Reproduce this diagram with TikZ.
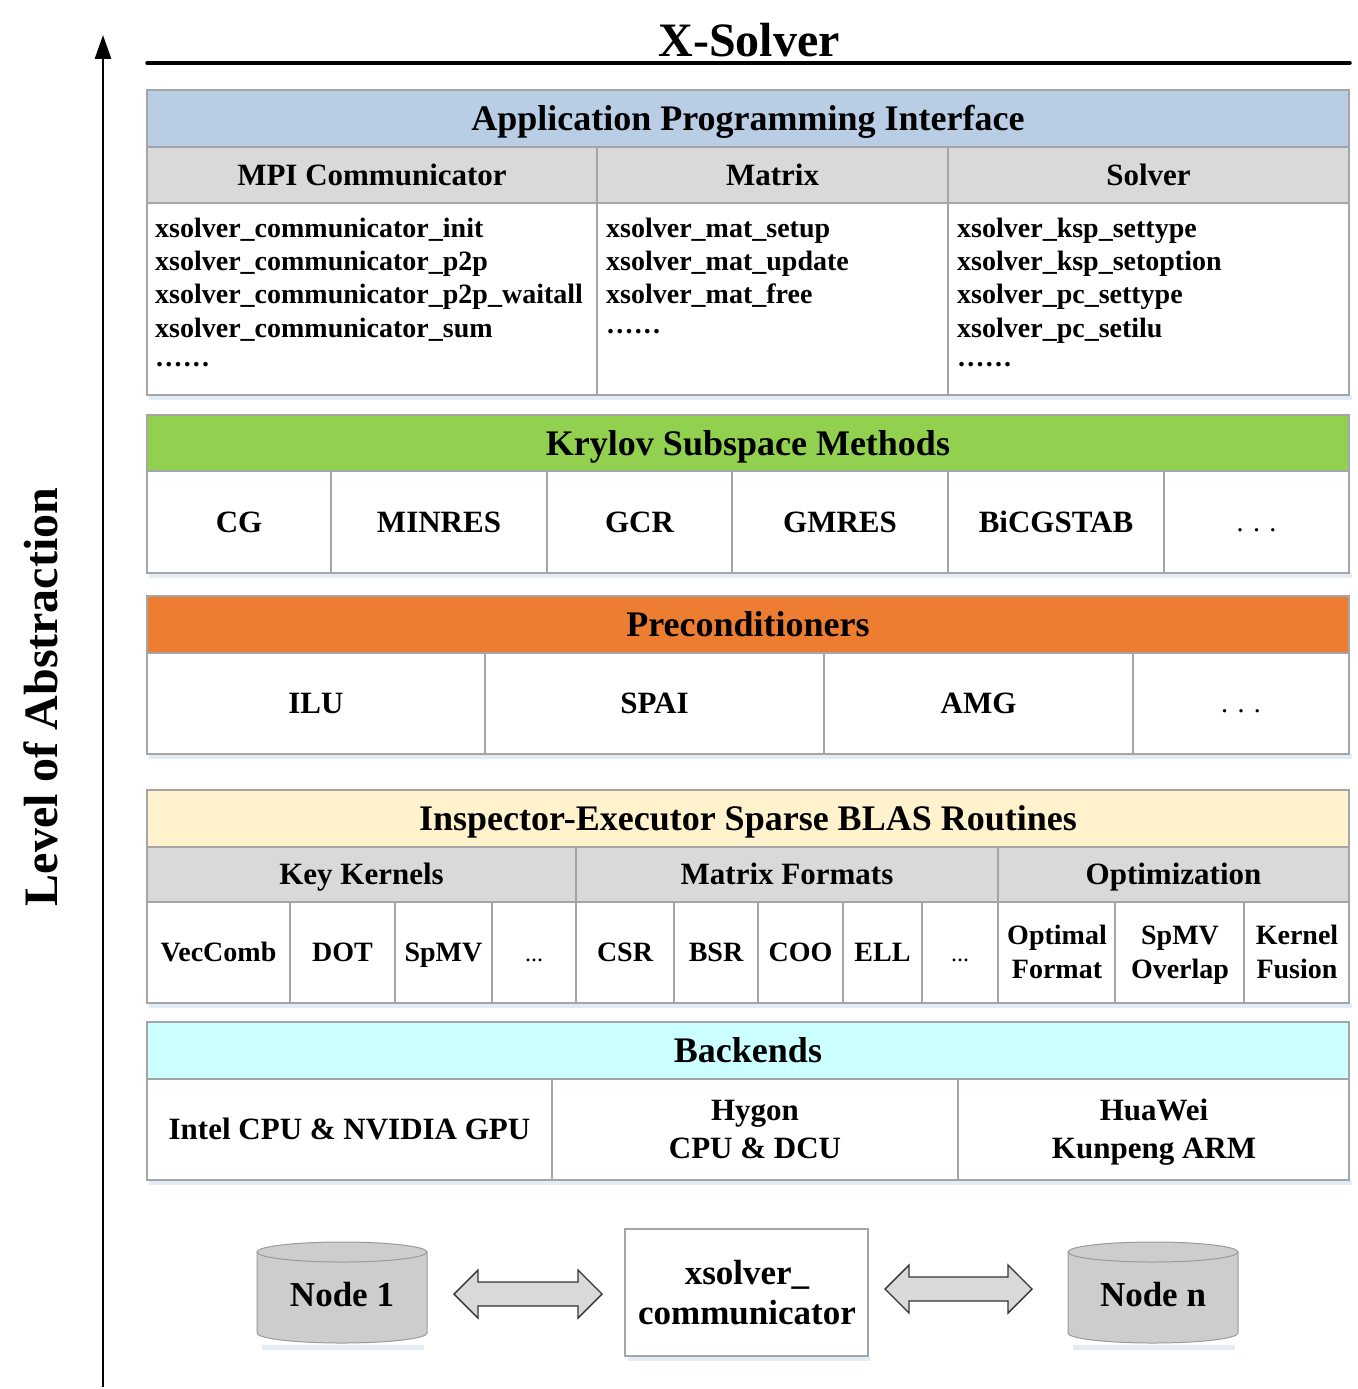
\documentclass[tikz,border=0pt]{standalone}
\usepackage{fontspec}
\setmainfont{Liberation Serif}
\usetikzlibrary{arrows.meta}
\definecolor{bord}{HTML}{A5A5A5}
\definecolor{apiblue}{HTML}{B9CDE5}
\definecolor{subgray}{HTML}{D9D9D9}
\definecolor{kgreen}{HTML}{92D050}
\definecolor{porange}{HTML}{ED7D31}
\definecolor{iyellow}{HTML}{FFF2CC}
\definecolor{bcyan}{HTML}{CCFFFF}
\definecolor{cylgray}{HTML}{CDCDCD}
\definecolor{cylline}{HTML}{9A9A9A}
\definecolor{arrfill}{HTML}{D9D9D9}
\definecolor{shadowc}{HTML}{DCE6F2}
\newcommand\sixdots{.\kern2.2pt.\kern2.2pt.\kern2.2pt.\kern2.2pt.\kern2.2pt.}
\begin{document}
\begin{tikzpicture}[x=1pt,y=-1pt,
  cell/.style={draw=bord, line width=1.2pt, inner sep=0pt, outer sep=0pt, anchor=north west, align=center},
  hd/.style={font=\fontsize{36}{40}\selectfont\bfseries, text height=32.1pt, text depth=7.8pt},
  sb/.style={font=\fontsize{31}{36}\selectfont\bfseries, text height=27.6pt, text depth=6.7pt},
  sm/.style={font=\fontsize{28}{33}\selectfont\bfseries, text height=24.9pt, text depth=6pt},
  dotsty/.style={font=\fontsize{28}{33}\selectfont, text height=24.9pt, text depth=6pt},
  code/.style={font=\fontsize{28}{33}\selectfont\bfseries, anchor=base west, inner sep=0pt},
  lbl/.style={font=\fontsize{28}{33}\selectfont\bfseries, anchor=base, inner sep=0pt},
  lblb/.style={font=\fontsize{31}{36}\selectfont\bfseries, anchor=base, inner sep=0pt},
  lblc/.style={font=\fontsize{35}{40}\selectfont\bfseries, anchor=base, inner sep=0pt},
  shad/.style={fill=shadowc, opacity=0.8},
  fatarrow/.style={draw=black!80, fill=arrfill, line width=1.4pt, line join=miter},
  cyl/.style={draw=cylline, fill=cylgray, line width=1pt}
]
\useasboundingbox (0,0) rectangle (1357,1389);

% title and axis
\node[font=\fontsize{48}{52}\selectfont\bfseries, anchor=base, inner sep=0pt] (title) at (749,57) {X-Solver};
\coordinate (tl) at (147,63);
\coordinate (tr) at (1350,63);
\draw[line width=3.5pt, line cap=round] (tl) -- (tr);
\coordinate (ab) at (103,1387);
\coordinate (at) at (103,35);
\draw[line width=2.8pt, -{Triangle[length=24pt,width=16pt]}] (ab) -- (at);
\node[rotate=90, anchor=base, inner sep=0pt, font=\fontsize{48}{52}\selectfont\bfseries] (lvl) at (57,697) {Level of Abstraction};

% shadows
\fill[shad] (149,395) rectangle (1352,400);
\fill[shad] (149,573) rectangle (1352,578);
\fill[shad] (149,754) rectangle (1352,759);
\fill[shad] (149,1003) rectangle (1352,1008);
\fill[shad] (149,1180) rectangle (1352,1185);

% API
\node[cell, hd, fill=apiblue, minimum width=1202pt, minimum height=57pt] (api) at (147,90) {Application Programming Interface};
\node[cell, sb, fill=subgray, minimum width=450pt, minimum height=56pt] (apiS1) at (147,147) {MPI Communicator};
\node[cell, sb, fill=subgray, minimum width=351pt, minimum height=56pt] (apiS2) at (597,147) {Matrix};
\node[cell, sb, fill=subgray, minimum width=401pt, minimum height=56pt] (apiS3) at (948,147) {Solver};
\node[cell, fill=white, minimum width=450pt, minimum height=192pt] (apiC1) at (147,203) {};
\node[cell, fill=white, minimum width=351pt, minimum height=192pt] (apiC2) at (597,203) {};
\node[cell, fill=white, minimum width=401pt, minimum height=192pt] (apiC3) at (948,203) {};
\foreach \t [count=\i] in {xsolver\_communicator\_init, xsolver\_communicator\_p2p, xsolver\_communicator\_p2p\_waitall, xsolver\_communicator\_sum}
  \node[code] (mc\i) at (155,{237+33.4*(\i-1)}) {\t};
\node[code] (mcd) at (156,366) {\sixdots};
\foreach \t [count=\i] in {xsolver\_mat\_setup, xsolver\_mat\_update, xsolver\_mat\_free}
  \node[code] (mm\i) at (606,{237+33.4*(\i-1)}) {\t};
\node[code] (mmd) at (607,333) {\sixdots};
\foreach \t [count=\i] in {xsolver\_ksp\_settype, xsolver\_ksp\_setoption, xsolver\_pc\_settype, xsolver\_pc\_setilu}
  \node[code] (ms\i) at (957,{237+33.4*(\i-1)}) {\t};
\node[code] (msd) at (958,366) {\sixdots};

% Krylov
\node[cell, hd, fill=kgreen, minimum width=1202pt, minimum height=56pt] (kry) at (147,415) {Krylov Subspace Methods};
\node[cell, sb, fill=white, minimum width=184pt, minimum height=102pt] (k1) at (147,471) {CG};
\node[cell, sb, fill=white, minimum width=216pt, minimum height=102pt] (k2) at (331,471) {MINRES};
\node[cell, sb, fill=white, minimum width=185pt, minimum height=102pt] (k3) at (547,471) {GCR};
\node[cell, sb, fill=white, minimum width=216pt, minimum height=102pt] (k4) at (732,471) {GMRES};
\node[cell, sb, fill=white, minimum width=216pt, minimum height=102pt] (k5) at (948,471) {BiCGSTAB};
\node[cell, dotsty, fill=white, minimum width=185pt, minimum height=102pt] (k6) at (1164,471) {. . .};

% Preconditioners
\node[cell, hd, fill=porange, minimum width=1202pt, minimum height=57pt] (pre) at (147,596) {Preconditioners};
\node[cell, sb, fill=white, minimum width=338pt, minimum height=101pt] (p1) at (147,653) {ILU};
\node[cell, sb, fill=white, minimum width=339pt, minimum height=101pt] (p2) at (485,653) {SPAI};
\node[cell, sb, fill=white, minimum width=309pt, minimum height=101pt] (p3) at (824,653) {AMG};
\node[cell, dotsty, fill=white, minimum width=216pt, minimum height=101pt] (p4) at (1133,653) {. . .};

% Inspector-Executor
\node[cell, hd, fill=iyellow, minimum width=1202pt, minimum height=57pt] (ins) at (147,790) {Inspector-Executor Sparse BLAS Routines};
\node[cell, sb, fill=subgray, minimum width=429pt, minimum height=55pt] (is1) at (147,847) {Key Kernels};
\node[cell, sb, fill=subgray, minimum width=422pt, minimum height=55pt] (is2) at (576,847) {Matrix Formats};
\node[cell, sb, fill=subgray, minimum width=351pt, minimum height=55pt] (is3) at (998,847) {Optimization};
\node[cell, sm, fill=white, minimum width=143pt, minimum height=101pt] (r1) at (147,902) {VecComb};
\node[cell, sm, fill=white, minimum width=105pt, minimum height=101pt] (r2) at (290,902) {DOT};
\node[cell, sm, fill=white, minimum width=97pt, minimum height=101pt] (r3) at (395,902) {SpMV};
\node[cell, dotsty, font=\fontsize{24}{28}\selectfont, fill=white, minimum width=84pt, minimum height=101pt] (r4) at (492,902) {...};
\node[cell, sm, fill=white, minimum width=98pt, minimum height=101pt] (r5) at (576,902) {CSR};
\node[cell, sm, fill=white, minimum width=84pt, minimum height=101pt] (r6) at (674,902) {BSR};
\node[cell, sm, fill=white, minimum width=85pt, minimum height=101pt] (r7) at (758,902) {COO};
\node[cell, sm, fill=white, minimum width=79pt, minimum height=101pt] (r8) at (843,902) {ELL};
\node[cell, dotsty, font=\fontsize{24}{28}\selectfont, fill=white, minimum width=76pt, minimum height=101pt] (r9) at (922,902) {...};
\node[cell, fill=white, minimum width=117pt, minimum height=101pt] (r10) at (998,902) {};
\node[cell, fill=white, minimum width=129pt, minimum height=101pt] (r11) at (1115,902) {};
\node[cell, fill=white, minimum width=105pt, minimum height=101pt] (r12) at (1244,902) {};
\node[lbl] (r10a) at (1057,944) {Optimal};
\node[lbl] (r10b) at (1057,978) {Format};
\node[lbl] (r11a) at (1180,944) {SpMV};
\node[lbl] (r11b) at (1180,978) {Overlap};
\node[lbl] (r12a) at (1297,944) {Kernel};
\node[lbl] (r12b) at (1297,978) {Fusion};

% Backends
\node[cell, hd, fill=bcyan, minimum width=1202pt, minimum height=57pt] (bk) at (147,1022) {Backends};
\node[cell, sb, fill=white, minimum width=405pt, minimum height=101pt] (b1) at (147,1079) {Intel CPU \& NVIDIA GPU};
\node[cell, fill=white, minimum width=406pt, minimum height=101pt] (b2) at (552,1079) {};
\node[cell, fill=white, minimum width=391pt, minimum height=101pt] (b3) at (958,1079) {};
\node[lblb] (b2a) at (755,1120) {Hygon};
\node[lblb] (b2b) at (755,1158) {CPU \& DCU};
\node[lblb] (b3a) at (1154,1120) {HuaWei};
\node[lblb] (b3b) at (1154,1158) {Kunpeng ARM};

% Bottom: nodes and communicator
\fill[shad] (262,1345) rectangle (424,1350);
\fill[shad] (1073,1345) rectangle (1235,1350);
\fill[shad] (628,1356) rectangle (870,1361);
\path[cyl] (257,1252) -- (257,1333) arc[start angle=180, end angle=0, x radius=85, y radius=10] -- (427,1252) -- cycle;
\path[cyl] (342,1252) ellipse [x radius=85, y radius=10];
\path[cyl] (1068,1252) -- (1068,1333) arc[start angle=180, end angle=0, x radius=85, y radius=10] -- (1238,1252) -- cycle;
\path[cyl] (1153,1252) ellipse [x radius=85, y radius=10];
\node[lblc] (n1) at (342,1306) {Node 1};
\node[lblc] (nn) at (1153,1306) {Node n};
\node[cell, fill=white, minimum width=243pt, minimum height=127pt] (comm) at (625,1229) {};
\node[lblc] (comma) at (747,1284) {xsolver\_};
\node[lblc] (commb) at (747,1324) {communicator};

% fat double arrows
\coordinate (a1l) at (454,1294);
\coordinate (a1r) at (602,1294);
\draw[fatarrow] (a1l) -- ++(24,-24) -- ++(0,12) -- ++(100,0) -- ++(0,-12) -- (a1r) -- ++(-24,24) -- ++(0,-12) -- ++(-100,0) -- ++(0,12) -- cycle;
\coordinate (a2l) at (885,1289);
\coordinate (a2r) at (1032,1289);
\draw[fatarrow] (a2l) -- ++(24,-24) -- ++(0,12) -- ++(99,0) -- ++(0,-12) -- (a2r) -- ++(-24,24) -- ++(0,-12) -- ++(-99,0) -- ++(0,12) -- cycle;
\end{tikzpicture}
\end{document}
